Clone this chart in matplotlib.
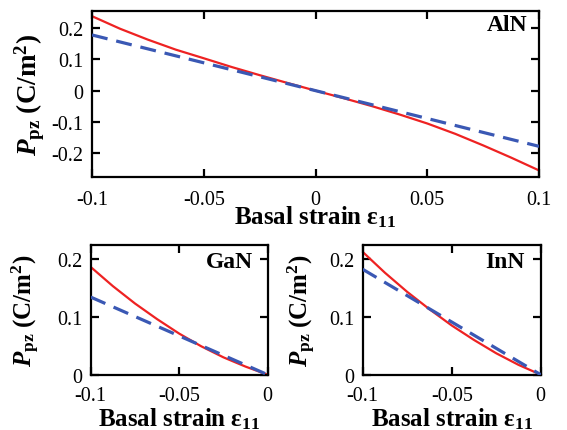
import matplotlib
matplotlib.use("Agg")
import matplotlib.pyplot as plt

plt.rcParams.update({
    "font.family": "Liberation Serif",
    "font.size": 14.5,
    "mathtext.fontset": "custom",
    "mathtext.rm": "Liberation Serif",
    "mathtext.it": "Liberation Serif:italic",
    "mathtext.bf": "Liberation Serif:bold",
    "mathtext.bfit": "Liberation Serif:bold:italic",
    "axes.linewidth": 1.6,
})

# AlN (full strain range)
aln_strain = [-0.1, -0.0875, -0.075, -0.0625, -0.05, -0.0375, -0.025, -0.0125, 0.0,
              0.0125, 0.025, 0.0375, 0.05, 0.0625, 0.075, 0.0875, 0.1]
aln_red = [0.238, 0.198, 0.163, 0.131, 0.1035, 0.0755, 0.0495, 0.0245, 0.0,
           -0.024, -0.049, -0.076, -0.105, -0.138, -0.175, -0.214, -0.255]
aln_lin_strain = [-0.1, 0.0, 0.1]
aln_blue = [0.178, 0.0, -0.178]

# GaN / InN (compressive side only)
small_strain = [-0.1, -0.0875, -0.075, -0.0625, -0.05, -0.0375, -0.025, -0.0125, 0.0]
gan_red = [0.186, 0.153, 0.123, 0.096, 0.071, 0.049, 0.030, 0.014, 0.0]
inn_red = [0.212, 0.176, 0.143, 0.113, 0.085, 0.060, 0.037, 0.017, 0.0]
small_lin_strain = [-0.1, 0.0]
gan_blue = [0.134, 0.0]
inn_blue = [0.182, 0.0]

RED = "#ee2222"
BLUE = "#3a58b4"
LABEL_SIZE = 18

ylab = r"$\mathbfit{P}_{\mathbf{pz}}\ \mathbf{(C/m^2)}$"
xlab = r"$\mathbf{Basal\ strain\ \varepsilon_{11}}$"


def style_axes(ax, xpad):
    ax.tick_params(direction="in", length=6, width=1.6, top=True, right=True,
                   labelsize=14.5)
    ax.tick_params(axis="x", pad=xpad)
    ax.tick_params(axis="y", pad=6)


def draw(ax, xs, red, xl, blue):
    ax.plot(xs, red, color=RED, lw=1.6, zorder=2)
    ax.plot(xl, blue, color=BLUE, lw=2.3, dashes=(5, 2.8), zorder=3)


fig = plt.figure(figsize=(5.67, 4.31), dpi=100)

# top panel: AlN
ax0 = fig.add_axes([0.1623, 0.587, 0.7884, 0.384])
draw(ax0, aln_strain, aln_red, aln_lin_strain, aln_blue)
ax0.set_xlim(-0.1, 0.1)
ax0.set_ylim(-0.276, 0.253)
ax0.set_xticks([-0.1, -0.05, 0, 0.05, 0.1])
ax0.set_xticklabels(["-0.1", "-0.05", "0", "0.05", "0.1"])
ax0.set_yticks([-0.2, -0.1, 0, 0.1, 0.2])
ax0.set_yticklabels(["-0.2", "-0.1", "0", "0.1", "0.2"])
style_axes(ax0, 9)
ax0.set_ylabel(ylab, fontsize=19.5)
ax0.yaxis.set_label_coords(-0.101, 0.5)
ax0.set_xlabel(xlab, fontsize=LABEL_SIZE)
ax0.xaxis.set_label_coords(0.5, -0.162)
ax0.text(0.975, 0.888, "AlN", transform=ax0.transAxes, ha="right", va="baseline",
         fontsize=17, fontweight="bold")

# bottom panels: GaN and InN
panels = [
    ([0.160, 0.1283, 0.312, 0.301], gan_red, gan_blue, "GaN", -0.275, 0.917),
    ([0.6397, 0.1283, 0.314, 0.301], inn_red, inn_blue, "InN", -0.249, 0.912),
]
for pos, red, blue, name, lx, tx in panels:
    ax = fig.add_axes(pos)
    draw(ax, small_strain, red, small_lin_strain, blue)
    ax.set_xlim(-0.1, 0.0)
    ax.set_ylim(0, 0.224)
    ax.set_xticks([-0.1, -0.05, 0])
    ax.set_xticklabels(["-0.1", "-0.05", "0"])
    ax.set_yticks([0, 0.1, 0.2])
    ax.set_yticklabels(["0", "0.1", "0.2"])
    style_axes(ax, 8)
    ax.set_ylabel(ylab, fontsize=LABEL_SIZE)
    ax.yaxis.set_label_coords(lx, 0.5)
    ax.set_xlabel(xlab, fontsize=LABEL_SIZE)
    ax.xaxis.set_label_coords(0.5, -0.235)
    ax.text(tx, 0.828, name, transform=ax.transAxes, ha="right", va="baseline",
            fontsize=17, fontweight="bold")

fig.savefig("out.png", dpi=100)
